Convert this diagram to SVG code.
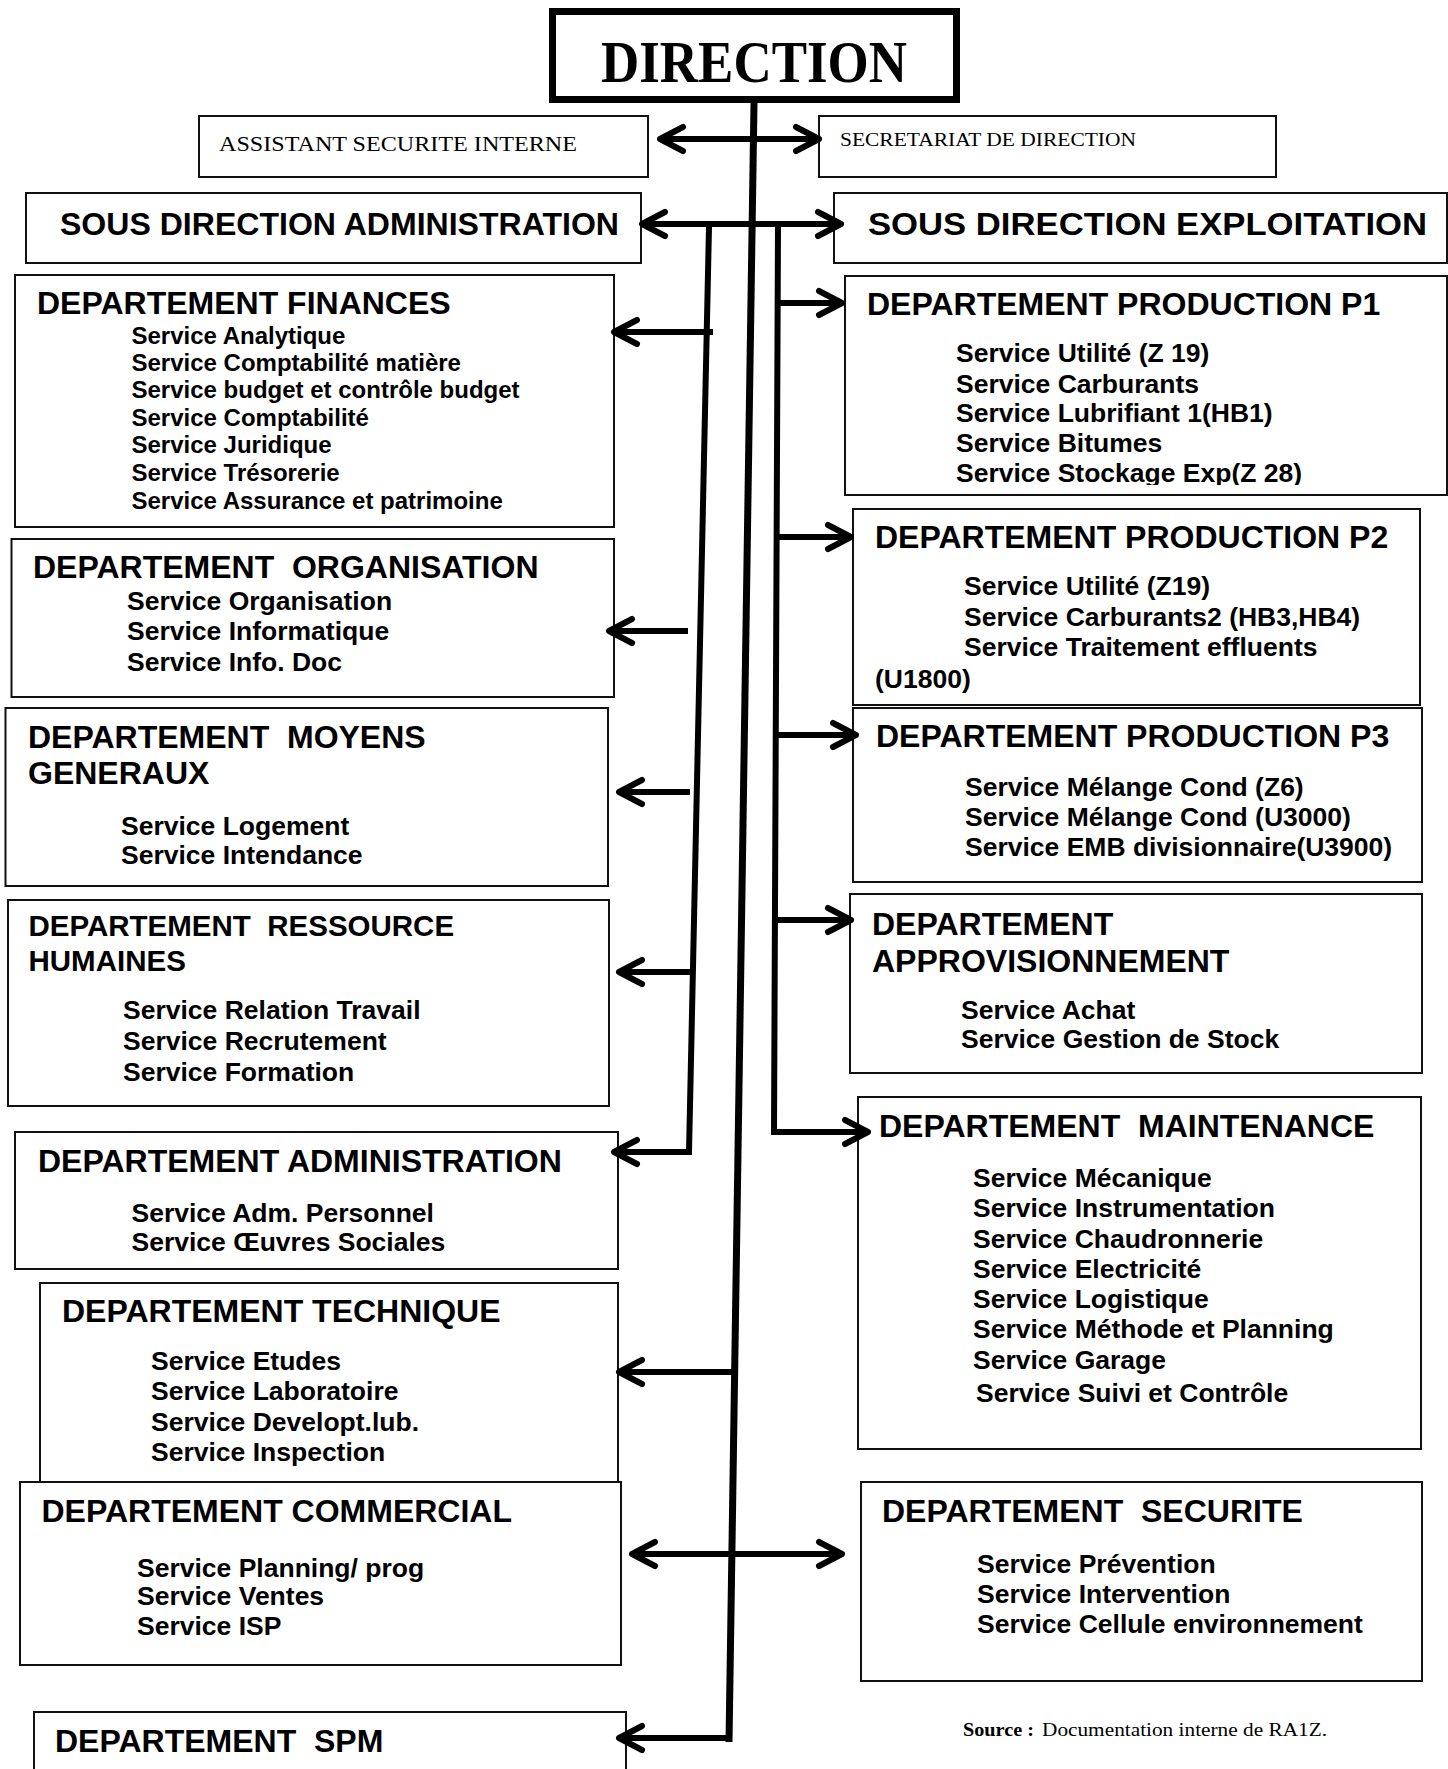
<svg xmlns="http://www.w3.org/2000/svg" width="1448" height="1769" viewBox="0 0 1448 1769">
  <style>
    .box { fill: #fff; stroke: #111; stroke-width: 2; }
    .top { fill: #fff; stroke: #000; stroke-width: 7; }
    .h { font-family: "Liberation Sans", Arial, sans-serif; font-weight: bold; font-size: 32px; fill: #000; }
    .hs { font-family: "Liberation Sans", Arial, sans-serif; font-weight: bold; font-size: 29.5px; fill: #000; }
    .b { font-family: "Liberation Sans", Arial, sans-serif; font-weight: bold; font-size: 26.5px; fill: #000; }
    .bs { font-family: "Liberation Sans", Arial, sans-serif; font-weight: bold; font-size: 24px; fill: #000; }
    .serif { font-family: "Liberation Serif", "Times New Roman", serif; fill: #000; }
    .trunk { fill: none; stroke: #000; stroke-width: 7; }
    .arrow { fill: none; stroke: #000; stroke-width: 6; marker-end: url(#ah); }
    .both { fill: none; stroke: #000; stroke-width: 6; marker-start: url(#ah); marker-end: url(#ah); }
  </style>
  <defs>
    <marker id="ah" markerUnits="userSpaceOnUse" viewBox="0 0 30 30" refX="27" refY="15" markerWidth="30" markerHeight="30" orient="auto-start-reverse" overflow="visible">
      <path d="M4,3 L27,15 L4,27" fill="none" stroke="#000" stroke-width="6" stroke-linecap="round" stroke-linejoin="round"/>
    </marker>
    <clipPath id="clipP1">
      <rect x="846" y="277" width="600" height="208"/>
    </clipPath>
  </defs>

  <rect width="1448" height="1769" fill="#fff"/>

  <!-- top level -->
  <g id="direction">
    <rect class="top" x="552.5" y="11.5" width="404" height="88"/>
    <text class="serif" x="601" y="82" font-size="59" font-weight="bold" textLength="306" lengthAdjust="spacingAndGlyphs">DIRECTION</text>
  </g>

  <g id="assistant-securite">
    <rect class="box" x="199" y="116" width="449" height="61"/>
    <text class="serif" x="219" y="151" font-size="22" textLength="358" lengthAdjust="spacingAndGlyphs">ASSISTANT SECURITE INTERNE</text>
  </g>

  <g id="secretariat">
    <rect class="box" x="819" y="116" width="457" height="61"/>
    <text class="serif" x="840" y="146" font-size="19" textLength="296" lengthAdjust="spacingAndGlyphs">SECRETARIAT DE DIRECTION</text>
  </g>

  <g id="sd-administration">
    <rect class="box" x="26" y="193" width="615" height="70"/>
    <text class="h" x="60" y="235" textLength="559" lengthAdjust="spacingAndGlyphs">SOUS DIRECTION ADMINISTRATION</text>
  </g>

  <g id="sd-exploitation">
    <rect class="box" x="834" y="193" width="613" height="70"/>
    <text class="h" x="868" y="235" textLength="559" lengthAdjust="spacingAndGlyphs">SOUS DIRECTION EXPLOITATION</text>
  </g>

  <!-- administration side -->
  <g id="dep-finances">
    <rect class="box" x="15" y="275" width="599" height="252"/>
    <text class="h" x="37" y="314">DEPARTEMENT FINANCES</text>
    <text class="bs" x="131.5" y="344">Service Analytique</text>
    <text class="bs" x="131.5" y="371">Service Comptabilité matière</text>
    <text class="bs" x="131.5" y="398">Service budget et contrôle budget</text>
    <text class="bs" x="131.5" y="426">Service Comptabilité</text>
    <text class="bs" x="131.5" y="453">Service Juridique</text>
    <text class="bs" x="131.5" y="481">Service Trésorerie</text>
    <text class="bs" x="131.5" y="509">Service Assurance et patrimoine</text>
  </g>

  <g id="dep-organisation">
    <rect class="box" x="11.5" y="539" width="602.5" height="158"/>
    <text class="h" x="33" y="578">DEPARTEMENT&#160; ORGANISATION</text>
    <text class="b" x="127" y="610">Service Organisation</text>
    <text class="b" x="127" y="640">Service Informatique</text>
    <text class="b" x="127" y="671">Service Info. Doc</text>
  </g>

  <g id="dep-moyens-generaux">
    <rect class="box" x="5.5" y="708" width="602.5" height="178"/>
    <text class="h" x="28" y="748">DEPARTEMENT&#160; MOYENS</text>
    <text class="h" x="28" y="784">GENERAUX</text>
    <text class="b" x="121" y="835">Service Logement</text>
    <text class="b" x="121" y="864">Service Intendance</text>
  </g>

  <g id="dep-ressources-humaines">
    <rect class="box" x="8" y="900" width="601" height="206"/>
    <text class="hs" x="28.5" y="936">DEPARTEMENT&#160; RESSOURCE</text>
    <text class="hs" x="28.5" y="971">HUMAINES</text>
    <text class="b" x="123" y="1019">Service Relation Travail</text>
    <text class="b" x="123" y="1050">Service Recrutement</text>
    <text class="b" x="123" y="1081">Service Formation</text>
  </g>

  <g id="dep-administration">
    <rect class="box" x="15" y="1132" width="603" height="137"/>
    <text class="h" x="38" y="1172">DEPARTEMENT ADMINISTRATION</text>
    <text class="b" x="131.5" y="1222">Service Adm. Personnel</text>
    <text class="b" x="131.5" y="1251">Service Œuvres Sociales</text>
  </g>

  <g id="dep-technique">
    <rect class="box" x="40" y="1283" width="578" height="199"/>
    <text class="h" x="62" y="1322">DEPARTEMENT TECHNIQUE</text>
    <text class="b" x="151" y="1370">Service Etudes</text>
    <text class="b" x="151" y="1400">Service Laboratoire</text>
    <text class="b" x="151" y="1431">Service Developt.lub.</text>
    <text class="b" x="151" y="1461">Service Inspection</text>
  </g>

  <g id="dep-commercial">
    <rect class="box" x="20" y="1482" width="601" height="183"/>
    <text class="h" x="41.5" y="1522">DEPARTEMENT COMMERCIAL</text>
    <text class="b" x="137" y="1577">Service Planning/ prog</text>
    <text class="b" x="137" y="1605">Service Ventes</text>
    <text class="b" x="137" y="1635">Service ISP</text>
  </g>

  <g id="dep-spm">
    <rect class="box" x="34" y="1712" width="592" height="80"/>
    <text class="h" x="55" y="1752">DEPARTEMENT&#160; SPM</text>
  </g>

  <!-- exploitation side -->
  <g id="dep-production-p1">
    <rect class="box" x="845" y="276" width="602" height="219"/>
    <text class="h" x="867" y="315">DEPARTEMENT PRODUCTION P1</text>
    <g clip-path="url(#clipP1)">
      <text class="b" x="956" y="362">Service Utilité (Z 19)</text>
      <text class="b" x="956" y="393">Service Carburants</text>
      <text class="b" x="956" y="422">Service Lubrifiant 1(HB1)</text>
      <text class="b" x="956" y="452">Service Bitumes</text>
      <text class="b" x="956" y="482">Service Stockage Exp(Z 28)</text>
    </g>
  </g>

  <g id="dep-production-p2">
    <rect class="box" x="853" y="509" width="567" height="196"/>
    <text class="h" x="875" y="548">DEPARTEMENT PRODUCTION P2</text>
    <text class="b" x="964" y="595">Service Utilité (Z19)</text>
    <text class="b" x="964" y="626">Service Carburants2 (HB3,HB4)</text>
    <text class="b" x="964" y="656">Service Traitement effluents</text>
    <text class="b" x="875" y="688">(U1800)</text>
  </g>

  <g id="dep-production-p3">
    <rect class="box" x="853" y="708" width="569" height="174"/>
    <text class="h" x="876" y="747">DEPARTEMENT PRODUCTION P3</text>
    <text class="b" x="965" y="796">Service Mélange Cond (Z6)</text>
    <text class="b" x="965" y="826">Service Mélange Cond (U3000)</text>
    <text class="b" x="965" y="856">Service EMB divisionnaire(U3900)</text>
  </g>

  <g id="dep-approvisionnement">
    <rect class="box" x="850" y="894" width="572" height="179"/>
    <text class="h" x="872" y="935">DEPARTEMENT</text>
    <text class="h" x="872" y="972">APPROVISIONNEMENT</text>
    <text class="b" x="961" y="1019">Service Achat</text>
    <text class="b" x="961" y="1048">Service Gestion de Stock</text>
  </g>

  <g id="dep-maintenance">
    <rect class="box" x="858" y="1097" width="563" height="352"/>
    <text class="h" x="879" y="1137">DEPARTEMENT&#160; MAINTENANCE</text>
    <text class="b" x="973" y="1187">Service Mécanique</text>
    <text class="b" x="973" y="1217">Service Instrumentation</text>
    <text class="b" x="973" y="1248">Service Chaudronnerie</text>
    <text class="b" x="973" y="1278">Service Electricité</text>
    <text class="b" x="973" y="1308">Service Logistique</text>
    <text class="b" x="973" y="1338">Service Méthode et Planning</text>
    <text class="b" x="973" y="1369">Service Garage</text>
    <text class="b" x="976" y="1402">Service Suivi et Contrôle</text>
  </g>

  <g id="dep-securite">
    <rect class="box" x="861" y="1482" width="561" height="199"/>
    <text class="h" x="882" y="1522">DEPARTEMENT&#160; SECURITE</text>
    <text class="b" x="977" y="1573">Service Prévention</text>
    <text class="b" x="977" y="1603">Service Intervention</text>
    <text class="b" x="977" y="1633">Service Cellule environnement</text>
  </g>

  <g id="source-note">
    <text class="serif" x="963" y="1736" font-size="19" font-weight="bold" textLength="71" lengthAdjust="spacingAndGlyphs">Source :</text>
    <text class="serif" x="1042" y="1736" font-size="19" textLength="285" lengthAdjust="spacingAndGlyphs">Documentation interne de RA1Z.</text>
  </g>

  <!-- connectors -->
  <g id="connectors">
    <!-- main trunk and the two branch lines -->
    <path class="trunk" d="M754,103 L729,1742"/>
    <path class="arrow" d="M709,227 L689,1152 L614,1152" stroke-width="7" stroke-linejoin="miter"/>
    <path class="arrow" d="M778,227 L774,1132 L868,1132" stroke-width="7" stroke-linejoin="miter"/>

    <!-- staff links and sub-directions -->
    <path class="both" d="M660,139 L819,139"/>
    <path class="both" d="M642,224 L841,224"/>

    <!-- administration departments -->
    <path class="arrow" d="M713,332 L614,332"/>
    <path class="arrow" d="M688,631 L609,631"/>
    <path class="arrow" d="M690,792 L619,792"/>
    <path class="arrow" d="M693,972 L619,972"/>
    <path class="arrow" d="M732,1372 L619,1372"/>
    <path class="arrow" d="M729,1738 L619,1738"/>

    <!-- exploitation departments -->
    <path class="arrow" d="M778,303 L842,303"/>
    <path class="arrow" d="M777,537 L851,537"/>
    <path class="arrow" d="M776,735 L856,735"/>
    <path class="arrow" d="M775,920 L851,920"/>

    <!-- commercial / securite -->
    <path class="both" d="M632,1554 L842,1554"/>
  </g>
</svg>
